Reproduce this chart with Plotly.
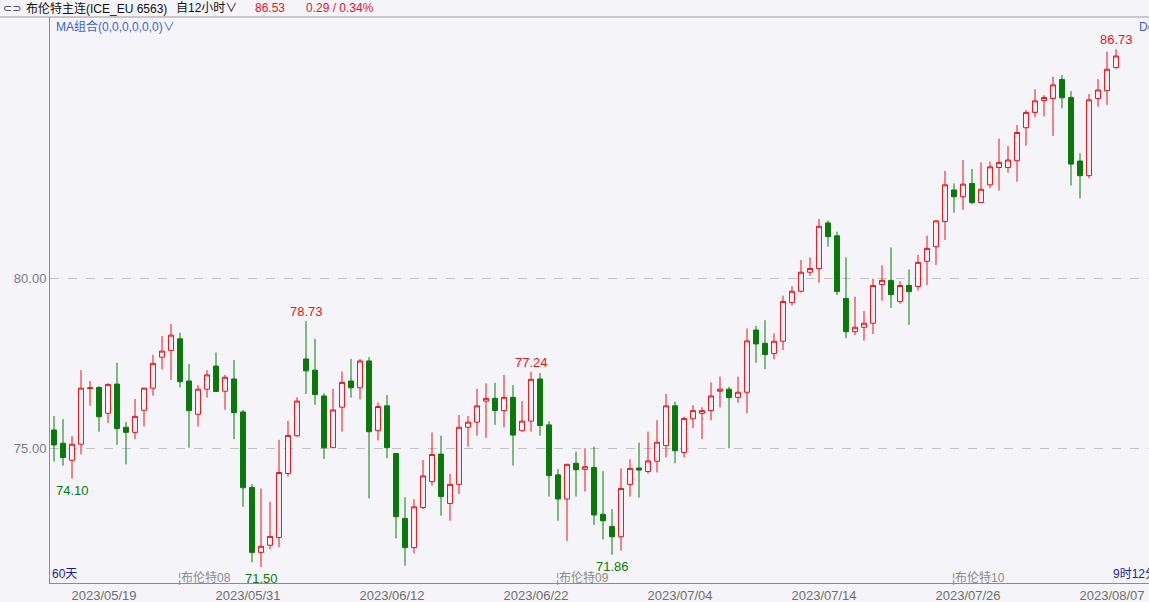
import plotly.graph_objects as go

# ---- data (12-hour candles) ----
opens = [
    75.53, 75.14, 74.64, 75.11, 76.75, 76.78, 76.02, 76.88, 75.61, 75.46,
    76.11, 76.76, 77.67, 77.87, 78.21, 76.97, 75.99, 76.73, 77.41, 76.67,
    77.03, 76.06, 73.84, 71.93, 72.14, 72.37, 74.25, 75.36, 77.62, 77.29,
    76.53, 75.01, 76.20, 76.97, 76.77, 77.56, 75.51, 76.24, 74.84, 72.93,
    72.07, 73.25, 74.01, 74.82, 73.37, 73.93, 75.61, 75.76, 76.38, 76.46,
    76.10, 76.49, 75.51, 75.79, 77.03, 75.68, 74.21, 73.50, 74.55, 74.37,
    74.43, 73.05, 72.69, 72.39, 73.93, 74.41, 74.31, 74.61, 75.07, 76.24,
    74.87, 75.86, 76.02, 76.10, 76.67, 76.73, 76.49, 76.64, 78.47, 78.08,
    77.78, 78.14, 79.28, 79.61, 80.17, 80.28, 81.62, 81.24, 79.40, 78.42,
    78.55, 78.67, 79.81, 79.93, 79.31, 79.78, 79.75, 80.49, 80.92, 81.66,
    82.59, 82.39, 82.78, 82.22, 82.74, 83.25, 83.25, 83.45, 84.42, 84.87,
    85.22, 85.28, 85.84, 85.31, 83.44, 83.01, 85.28, 85.51, 86.19,
]
highs = [
    75.94, 75.85, 75.35, 77.29, 76.97, 76.82, 76.90, 77.51, 75.77, 76.44,
    76.78, 77.74, 78.29, 78.65, 78.39, 77.47, 76.85, 77.29, 77.81, 77.15,
    77.59, 76.12, 73.94, 73.81, 73.42, 75.24, 75.80, 76.49, 78.73, 78.21,
    76.61, 76.74, 77.25, 77.62, 77.62, 77.67, 76.34, 76.56, 74.85, 73.55,
    73.49, 74.65, 75.46, 75.36, 74.24, 75.97, 75.94, 76.74, 76.90, 76.92,
    77.15, 76.85, 76.38, 77.24, 77.20, 75.79, 74.38, 74.53, 74.89, 74.99,
    75.04, 74.32, 73.20, 74.40, 74.67, 75.16, 75.48, 75.82, 76.59, 76.36,
    75.92, 76.26, 76.20, 76.93, 77.10, 76.80, 77.10, 78.52, 78.59, 78.76,
    78.37, 79.48, 79.76, 80.53, 80.61, 81.74, 81.69, 81.36, 80.61, 79.45,
    79.03, 79.98, 80.37, 80.90, 79.91, 80.25, 80.68, 81.24, 81.71, 83.15,
    82.78, 83.47, 83.21, 83.40, 83.42, 84.10, 83.88, 84.50, 84.94, 85.55,
    85.38, 85.92, 85.97, 85.50, 83.67, 85.41, 85.85, 86.66, 86.73,
]
lows = [
    74.60, 74.48, 74.10, 74.81, 76.24, 75.48, 75.73, 75.09, 74.52, 75.26,
    75.63, 76.54, 77.31, 77.00, 76.78, 75.01, 75.63, 76.48, 76.65, 76.12,
    75.26, 73.27, 71.64, 71.50, 72.02, 72.08, 74.16, 75.33, 76.59, 76.27,
    74.68, 75.00, 75.48, 76.48, 76.43, 73.52, 75.22, 74.70, 72.34, 71.54,
    71.90, 73.20, 73.89, 73.01, 72.86, 73.65, 75.04, 75.36, 75.30, 75.68,
    75.60, 74.48, 75.48, 75.48, 75.36, 73.57, 72.86, 72.27, 73.57, 73.72,
    72.74, 72.31, 71.86, 71.98, 73.57, 73.54, 74.25, 74.28, 74.72, 74.55,
    74.72, 75.58, 75.26, 75.81, 76.19, 74.99, 76.33, 76.02, 77.51, 77.32,
    77.61, 77.88, 79.19, 79.57, 80.06, 79.86, 80.92, 79.50, 78.23, 78.32,
    78.16, 78.35, 79.33, 79.12, 79.24, 78.62, 79.63, 79.79, 80.38, 81.12,
    81.92, 82.00, 82.17, 82.21, 82.64, 82.57, 83.10, 82.83, 83.89, 84.73,
    84.75, 84.18, 84.99, 82.72, 82.34, 82.93, 85.04, 85.09, 86.15,
]
closes = [
    75.09, 74.72, 75.11, 76.76, 76.77, 75.92, 76.87, 75.57, 75.46, 75.93,
    76.76, 77.49, 77.85, 78.32, 76.95, 76.10, 76.73, 77.15, 76.66, 77.08,
    76.04, 73.83, 71.93, 72.11, 72.40, 74.28, 75.37, 76.38, 77.27, 76.57,
    75.01, 76.12, 76.93, 76.77, 77.56, 75.48, 76.22, 75.01, 72.98, 72.07,
    73.27, 74.18, 74.81, 73.57, 73.93, 75.61, 75.76, 76.24, 76.46, 76.10,
    76.49, 75.38, 75.79, 77.02, 75.66, 74.19, 73.50, 74.52, 74.36, 74.45,
    73.03, 72.86, 72.39, 73.81, 74.40, 74.35, 74.62, 75.17, 76.24, 74.92,
    75.87, 76.10, 76.10, 76.53, 76.73, 76.48, 76.64, 78.15, 78.06, 77.75,
    78.14, 79.31, 79.61, 80.17, 80.28, 81.52, 81.22, 79.60, 78.42, 78.55,
    78.67, 79.78, 79.93, 79.51, 79.78, 79.60, 80.46, 80.87, 81.68, 82.74,
    82.39, 82.76, 82.22, 82.61, 83.27, 83.40, 83.47, 84.28, 84.87, 85.21,
    85.31, 85.68, 85.30, 83.35, 83.01, 85.24, 85.53, 86.14, 86.53,
]
candle_idx = list(range(len(opens)))

date_labels = ["2023/05/19", "2023/05/31", "2023/06/12", "2023/06/22",
               "2023/07/04", "2023/07/14", "2023/07/26", "2023/08/07"]
date_idx = [5, 21, 37, 53, 69, 85, 101, 117]

contract_labels = ["布伦特08", "布伦特09", "布伦特10"]
contract_idx = [13, 55, 99]

price_ticks = [75, 80]

# marked extremes: (candle index, 'high' / 'low')
marks = [(2, "low"), (23, "low"), (28, "high"), (53, "high"), (62, "low"), (118, "high")]

last_price = closes[-1]
change = 0.29
change_pct = 0.34

# ---- style ----
BG = "#f5f5f9"
RED = "#e8141c"
GREEN = "#0b780b"
W, H = 1149, 602
ML, MR, MT, MB = 50, 0, 17, 19
PW, PH = W - ML - MR, H - MT - MB
NUM_FONT = "Liberation Sans, Arial, Noto Sans CJK SC, sans-serif"
CJK_FONT = "Liberation Sans, Noto Sans CJK SC, sans-serif"


def px(x):
    return (x - ML) / PW


def py(y):
    return (H - MB - y) / PH


fig = go.Figure()
fig.add_trace(go.Candlestick(
    x=candle_idx, open=opens, high=highs, low=lows, close=closes,
    increasing=dict(line=dict(color=RED, width=1), fillcolor=BG),
    decreasing=dict(line=dict(color=GREEN, width=1), fillcolor=GREEN),
    whiskerwidth=0, showlegend=False, hoverinfo="skip",
))

annotations = []
# extreme labels
for i, kind in marks:
    if kind == "high":
        annotations.append(dict(x=i, y=highs[i], xref="x", yref="y", text=f"{highs[i]:.2f}",
                                showarrow=False, yanchor="bottom", yshift=0,
                                font=dict(color=RED, size=13, family=NUM_FONT)))
    else:
        annotations.append(dict(x=i, y=lows[i], xref="x", yref="y", text=f"{lows[i]:.2f}",
                                showarrow=False, yanchor="top", yshift=-2,
                                font=dict(color=GREEN, size=13, family=NUM_FONT)))

# contract roll markers near the bottom
for i, t in zip(contract_idx, contract_labels):
    annotations.append(dict(x=i + 0.5, y=py(577), xref="x", yref="paper", text="¦" + t,
                            showarrow=False, xanchor="left", yanchor="middle",
                            font=dict(color="#8a8a8a", size=12, family=CJK_FONT)))

# header and corner texts
def ptext(x, y, text, color, size=12, anchor="left", family=CJK_FONT):
    annotations.append(dict(x=px(x), y=py(y), xref="paper", yref="paper", text=text,
                            showarrow=False, xanchor=anchor, yanchor="middle",
                            font=dict(color=color, size=size, family=family)))

ptext(1, 8, "⊂⊃", "#333333", 11, family="DejaVu Sans")
ptext(24, 8, "布伦特主连(ICE_EU 6563)", "#111111", 12)
ptext(174, 8, "自12小时∨", "#111111", 12)
ptext(253, 8, f"{last_price:.2f}", RED, 12, family=NUM_FONT)
ptext(304, 8, f"{change:.2f} / {change_pct:.2f}%", RED, 12, family=NUM_FONT)
ptext(54, 26, "MA组合(0,0,0,0,0,0)∨", "#3a5fd0", 12)
ptext(1137, 27, "De", "#3a5fd0", 12)
ptext(50, 574, "60天", "#1c1c8c", 12)
ptext(1111, 574, "9时12分", "#1c1c9c", 12)

fig.update_layout(
    width=W, height=H,
    margin=dict(l=ML, r=MR, t=MT, b=MB, pad=0),
    paper_bgcolor=BG, plot_bgcolor=BG,
    boxgap=0.22,
    annotations=annotations,
    shapes=[dict(type="line", xref="paper", yref="paper", x0=px(0), x1=1, y0=1, y1=1,
                 line=dict(color="#9a9a9a", width=1))],
    xaxis=dict(
        range=[(ML - 54) / 9, (W - 54) / 9], rangeslider=dict(visible=False),
        showgrid=False, zeroline=False, showline=True, linecolor="#8c8c8c", linewidth=1,
        tickvals=[i + 0.56 for i in date_idx], ticktext=date_labels, ticks="",
        tickfont=dict(color="#6e6e6e", size=13, family=NUM_FONT), automargin=False,
    ),
    yaxis=dict(
        range=[80 - (H - MB - 278) / 34, 80 + (278 - MT) / 34],
        tickvals=price_ticks, ticktext=[f"{v:.2f}" for v in price_ticks], ticks="",
        showgrid=True, gridcolor="#c2c2c2", griddash="dash", gridwidth=1,
        zeroline=False, showline=True, linecolor="#8c8c8c", linewidth=1,
        tickfont=dict(color="#7a7a8a", size=13, family=NUM_FONT), automargin=False,
    ),
    hovermode=False,
)

fig.write_html(
    "out.html",
    config={"displayModeBar": False},
    post_script="document.body.style.margin='0';document.body.style.overflow='hidden';"
                "document.body.style.background='" + BG + "';",
)
